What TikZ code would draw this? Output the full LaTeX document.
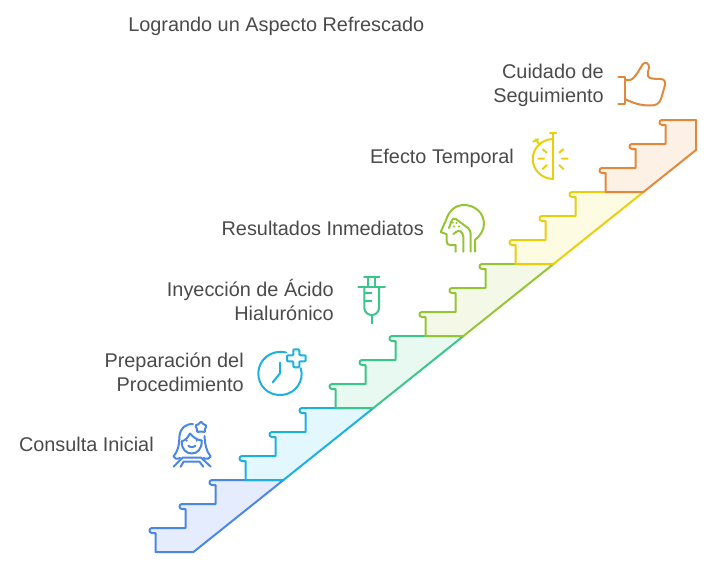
\documentclass[tikz,border=0pt]{standalone}
\usepackage{fontspec}
\setmainfont{Liberation Sans}
\usetikzlibrary{positioning}

\definecolor{bluestair}{HTML}{4A86E4}
\definecolor{bluefill}{HTML}{E4ECFD}
\definecolor{cyanstair}{HTML}{1CB0E2}
\definecolor{cyanfill}{HTML}{E3F7FE}
\definecolor{greenstair}{HTML}{3AC58A}
\definecolor{greenfill}{HTML}{E8F9F1}
\definecolor{limestair}{HTML}{95C435}
\definecolor{limefill}{HTML}{F3F9E6}
\definecolor{yellowstair}{HTML}{E8CF0C}
\definecolor{yellowfill}{HTML}{FDFBE2}
\definecolor{orangestair}{HTML}{E0893A}
\definecolor{orangefill}{HTML}{FDF0E4}
\definecolor{labeltext}{HTML}{4A4A4A}

% one riser of a stair, ending on the tread above it
\newcommand{\riser}{-- ++(0,-19) -- ++(-3.5,0) .. controls +(-3.4,0) and +(-3.4,0) .. ++(0,-5)}

\begin{document}
\begin{tikzpicture}[
      x = 0.75pt, y = -0.75pt,
      stair/.style = { line width = 1.5pt, line join = round },
      icon/.style = { line width = 1.5pt, line join = round, line cap = round },
      label/.style = {
        text = labeltext, font = \fontsize{14.9pt}{18pt}\selectfont,
        inner sep = 0, align = right, anchor = east
      },
    ]
    \useasboundingbox (0,0) rectangle (709,565);

    \foreach \c/\dx/\dy in {blue/0/0, cyan/90/-72, green/180/-144, lime/270/-216, yellow/360/-288} {
      \draw[stair, draw = \c stair, fill = \c fill, shift = {(\dx*0.75pt,\dy*-0.75pt)}]
        (155.5,552) \riser -- (185.5,528) \riser -- (215.5,504) \riser -- (283.5,480) -- (193.5,552) -- cycle;
    }
    \draw[stair, draw = orangestair, fill = orangefill]
      (605.5,192) \riser -- (635.5,168) \riser -- (665.5,144) \riser -- (696,120) -- (696,150) -- (643.5,192) -- cycle;

    \node[label, anchor = west] (title) at (128,26) {Logrando un Aspecto Refrescado};
    \node[label] (consulta) at (154,444) {Consulta Inicial};
    \node[label] (preparacion) at (244,372) {Preparación del\\Procedimiento};
    \node[label] (inyeccion) at (334,299.5) {Inyección de Ácido\\Hialurónico};
    \node[label] (resultados) at (424,228) {Resultados Inmediatos};
    \node[label] (efecto) at (514,158) {Efecto Temporal};
    \node[label] (cuidado) at (604,85.5) {Cuidado de\\Seguimiento};

    % woman
    \begin{scope}[icon, draw = bluestair]
      \draw (181.7,441.5) .. controls (181.5,449) and (186,453.5) .. (191.7,453.5) .. controls (197.5,453.5) and (202,449) .. (201.7,440.5);
      \draw (181.7,441.5) .. controls (186,440) and (188,437) .. (190,433.5) .. controls (193,437) and (197,440) .. (201.7,440.5);
      \draw (193,424) .. controls (185,424) and (180.5,428) .. (179.5,436) .. controls (179,446) and (178,451) .. (173.5,456.5) .. controls (174,458.5) and (177,459.5) .. (180,458);
      \draw (204.5,436) .. controls (205,444) and (206,451) .. (210.7,456.5) .. controls (210,458.5) and (207,459.5) .. (203.5,458);
      \draw (173.5,466.7) -- (182.7,457.5) -- (201,457.5) -- (210.7,466.7);
      \draw (180.7,466.7) -- (183.5,461.7) -- (199.5,461.7) -- (203.3,466.7);
      \draw (188.3,445.7) .. controls (189.5,447.5) and (194,447.5) .. (195.2,445.7);
      \fill[bluestair] (186.7,440.7) circle [radius = 0.8pt] (196.7,440.7) circle [radius = 0.8pt];
      \draw[rounded corners = 1.2pt] (201,420.7) -- (203,424.5) -- (207.3,425.3) -- (204.6,428.6) -- (205.4,432.7) -- (201,431) -- (196.6,432.7) -- (197.4,428.6) -- (194.6,425.3) -- (199,424.5) -- cycle;
    \end{scope}

    % clock with plus
    \begin{scope}[icon, draw = cyanstair]
      \draw (286,352.5) .. controls (271,349) and (258.3,360) .. (258.3,373.3) .. controls (258.3,386) and (268,395) .. (280,395) .. controls (292,395) and (301.7,386) .. (301.7,373.3) .. controls (301.7,371) and (301.3,370) .. (300.7,368.3);
      \draw (280,362.7) -- (280,373.3) -- (272.7,382.3);
      \draw[rounded corners = 0.7pt] (293.3,349.3) -- (299.3,349.3) -- (299.3,355.3) -- (305.7,355.3) -- (305.7,361.3) -- (299.3,361.3) -- (299.3,367.3) -- (293.3,367.3) -- (293.3,361.3) -- (287,361.3) -- (287,355.3) -- (293.3,355.3) -- cycle;
    \end{scope}

    % syringe
    \begin{scope}[icon, draw = greenstair]
      \draw (364,276.7) -- (379.3,276.7) (368.3,276.7) -- (368.3,286.7) (375,276.7) -- (375,286.7);
      \draw (358.3,286.7) -- (385,286.7);
      \draw (364.3,286.7) -- (364.3,308) .. controls (364.3,312) and (368,315) .. (371.7,315) .. controls (375.5,315) and (379,312) .. (379,308) -- (379,286.7);
      \draw (371.7,315) -- (371.7,323.3);
      \draw (365,292.7) -- (371.7,292.7) (365,301) -- (371.7,301);
    \end{scope}

    % head
    \begin{scope}[icon, draw = limestair]
      \draw (475,251.7) -- (475,240) .. controls (480,236) and (484,230) .. (484,224) .. controls (484,213) and (475,205) .. (464,205) .. controls (455,205) and (449,211) .. (446,220) -- (440.7,232) -- (446.7,234.3) -- (446.7,241) .. controls (446.7,244) and (448,245) .. (450,245) -- (455.7,245) -- (455.7,251.7);
      \draw (449,228) -- (451.5,221) .. controls (452,219) and (454,217.5) .. (456,219) -- (468,228) .. controls (470,230) and (470.7,232) .. (470.7,234) -- (470.7,251.7);
      \draw (463.3,251.7) -- (463.3,237) .. controls (463,232) and (459,229) .. (456,232) -- (453.3,234);
      \fill[limestair] (452.7,222.5) circle [radius = 0.9pt] (456.5,223) circle [radius = 0.9pt] (459,226.5) circle [radius = 0.9pt] (454,226.5) circle [radius = 0.9pt];
    \end{scope}

    % stopwatch
    \begin{scope}[icon, draw = yellowstair]
      \draw (553.3,132.7) -- (553.3,179);
      \draw (550,132.7) -- (556,132.7);
      \draw (553.3,139) .. controls (542,139) and (532.7,148) .. (532.7,159) .. controls (532.7,170) and (542,179) .. (553.3,179);
      \draw (535.7,139.3) -- (539.5,144.5) (533.3,141.7) -- (538.3,139.3);
      \draw (542.7,149.3) -- (546.7,152.7) (538.3,158.7) -- (544,158.7) (542.7,169) -- (546.7,165);
      \draw (563.3,149.3) -- (559.3,152.7) (562,158.7) -- (567.7,158.7) (559.3,165) -- (563.3,169);
    \end{scope}

    % thumb
    \begin{scope}[icon, draw = orangestair]
      \draw (618.3,76.7) -- (625,76.7) -- (625,104.3) -- (618.3,104.3);
      \draw (625,80) -- (630,80) .. controls (635,79) and (640,68) .. (643,64) .. controls (645,61.5) and (649,63) .. (649,67) .. controls (649,70) and (647,73) .. (648,76) .. controls (648.5,78) and (651,79) .. (661,79) .. controls (664,79) and (666,82) .. (665,85) -- (661,99) .. controls (659,104) and (656,105.5) .. (650,105.5) .. controls (640,105.5) and (633,103) .. (625,99);
    \end{scope}
  \end{tikzpicture}
\end{document}
